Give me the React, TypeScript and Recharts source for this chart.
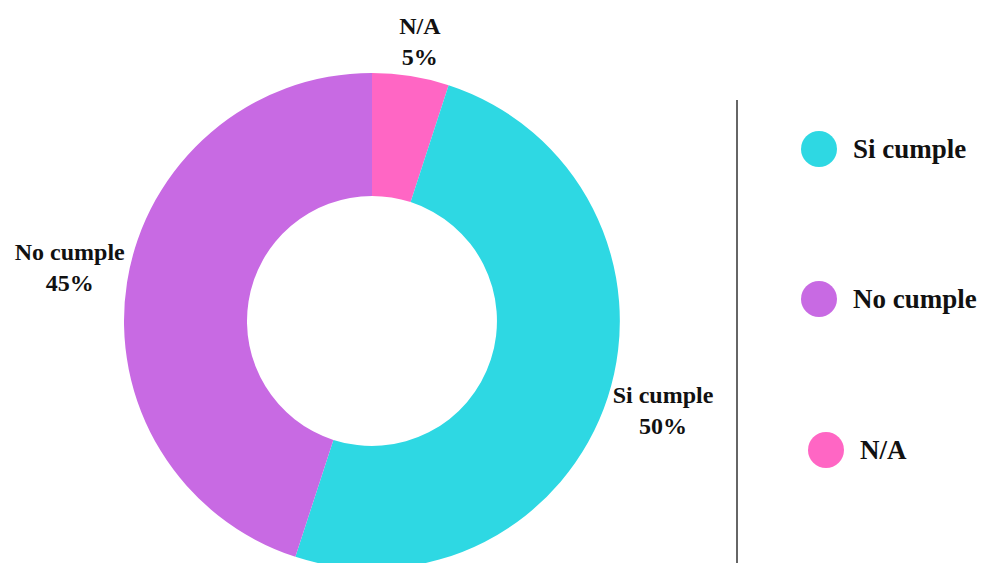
import React from "react";
import { PieChart, Pie, Cell } from "recharts";

const categories = ["N/A", "Si cumple", "No cumple"];
const percentages = [5, 50, 45];
const sliceColors = ["#FF66C4", "#2ED8E3", "#C86AE3"];

const legendOrder = ["Si cumple", "No cumple", "N/A"];

const chartData = categories.map((name, i) => ({
  name,
  value: percentages[i],
  color: sliceColors[i],
}));

const RADIAN = Math.PI / 180;
const FONT = "'Liberation Serif', 'Times New Roman', Times, 'DejaVu Serif', serif";

const renderLabel = (props: any) => {
  const { cx, cy, midAngle, outerRadius, name, value } = props;
  const cos = Math.cos(-midAngle * RADIAN);
  const x = cx + (outerRadius + 58) * cos;
  // labels on the left side sit a bit higher in the original
  const y = cy + (outerRadius + 37) * Math.sin(-midAngle * RADIAN) - (cos < -0.5 ? 10 : 0);
  return (
    <text
      x={x}
      y={y}
      textAnchor="middle"
      fill="#111"
      style={{ fontFamily: FONT, fontWeight: "bold", fontSize: 24 }}
    >
      <tspan x={x} dy={-6}>
        {name}
      </tspan>
      <tspan x={x} dy={31}>
        {value}%
      </tspan>
    </text>
  );
};

const App = () => {
  return (
    <div
      style={{
        position: "absolute",
        left: 0,
        top: 0,
        width: 984,
        height: 563,
        overflow: "hidden",
        background: "#fff",
        fontFamily: FONT,
      }}
    >
      <PieChart
        width={984}
        height={563}
        margin={{ top: 0, right: 0, bottom: 0, left: 0 }}
      >
        <Pie
          data={chartData}
          cx={372}
          cy={321}
          innerRadius={125}
          outerRadius={248}
          startAngle={90}
          endAngle={-270}
          dataKey="value"
          stroke="none"
          label={renderLabel}
          labelLine={false}
          isAnimationActive={false}
        >
          {chartData.map((entry, index) => (
            <Cell key={`cell-${index}`} fill={entry.color} />
          ))}
        </Pie>
      </PieChart>

      <div
        style={{
          position: "absolute",
          left: 736,
          top: 100,
          width: 2,
          height: 463,
          background: "#666",
        }}
      />

      {legendOrder.map((name, i) => {
        const color = sliceColors[categories.indexOf(name)];
        const shift = name === "N/A" ? 7 : 0;
        const top = [149, 299, 450][i];
        return (
          <div
            key={name}
            style={{
              position: "absolute",
              left: 801 + shift,
              top: top - 18,
              height: 36,
              display: "flex",
              alignItems: "center",
            }}
          >
            <div
              style={{
                width: 36,
                height: 36,
                borderRadius: "50%",
                background: color,
              }}
            />
            <span
              style={{
                marginLeft: 16,
                fontFamily: FONT,
                fontWeight: "bold",
                fontSize: 27,
                color: "#111",
                whiteSpace: "nowrap",
              }}
            >
              {name}
            </span>
          </div>
        );
      })}
    </div>
  );
};

export default App;
